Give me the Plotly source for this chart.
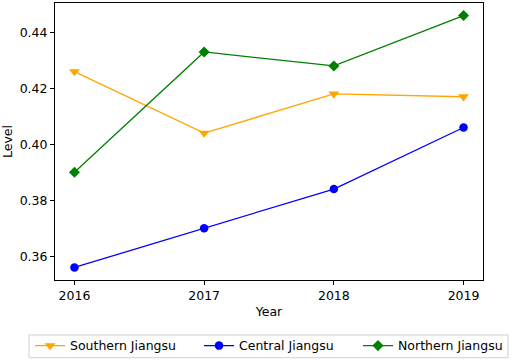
import plotly.graph_objects as go

years = [2016, 2017, 2018, 2019]
southern = [0.426, 0.404, 0.418, 0.417]
central = [0.356, 0.370, 0.384, 0.406]
northern = [0.390, 0.433, 0.428, 0.446]
y_ticks = [0.36, 0.38, 0.40, 0.42, 0.44]

FONT = dict(family="DejaVu Sans", size=12.5, color="black")

fig = go.Figure()
fig.add_trace(go.Scatter(x=years, y=southern, mode="lines+markers", name="Southern Jiangsu",
                         line=dict(color="orange", width=1.3), legend="legend",
                         marker=dict(symbol="triangle-down", size=9.5, color="orange")))
fig.add_trace(go.Scatter(x=years, y=central, mode="lines+markers", name="Central Jiangsu",
                         line=dict(color="blue", width=1.3), legend="legend2",
                         marker=dict(symbol="circle", size=8.5, color="blue")))
fig.add_trace(go.Scatter(x=years, y=northern, mode="lines+markers", name="Northern Jiangsu",
                         line=dict(color="green", width=1.3), legend="legend3",
                         marker=dict(symbol="diamond", size=8.5, color="green")))

axis_common = dict(showline=True, linecolor="black", linewidth=1, mirror=True,
                   ticks="outside", ticklen=4, tickcolor="black", showgrid=False,
                   zeroline=False, tickfont=FONT, automargin=False)

leg_common = dict(orientation="h", xref="container", yref="container",
                  y=0.0389, yanchor="middle", xanchor="left", visible=True,
                  borderwidth=0, font=FONT, bgcolor="rgba(0,0,0,0)")

fig.update_layout(
    width=512, height=360,
    showlegend=True,
    margin=dict(l=55, r=29, t=3, b=80, autoexpand=False),
    plot_bgcolor="white", paper_bgcolor="white",
    font=FONT,
    xaxis=dict(range=[2015.85, 2019.15], tickvals=years, ticktext=[str(y) for y in years],
               title=dict(text="Year", font=FONT, standoff=5), **axis_common),
    yaxis=dict(range=[0.3515, 0.4505], tickvals=y_ticks, tickformat=".2f",
               title=dict(text="Level", font=FONT, standoff=4), **axis_common),
    legend=dict(x=0.0586, **leg_common),
    legend2=dict(x=0.3887, **leg_common),
    legend3=dict(x=0.6992, **leg_common),
    shapes=[dict(type="rect", xref="paper", yref="paper", x0=-0.0607, x1=1.0584,
                 y0=-0.2805, y1=-0.1986, line=dict(color="#d0d0d0", width=1),
                 fillcolor="rgba(255,255,255,0.8)", layer="below")],
)

fig.write_html("out.html", config={"displayModeBar": False},
               post_script="document.body.style.margin='0';")
